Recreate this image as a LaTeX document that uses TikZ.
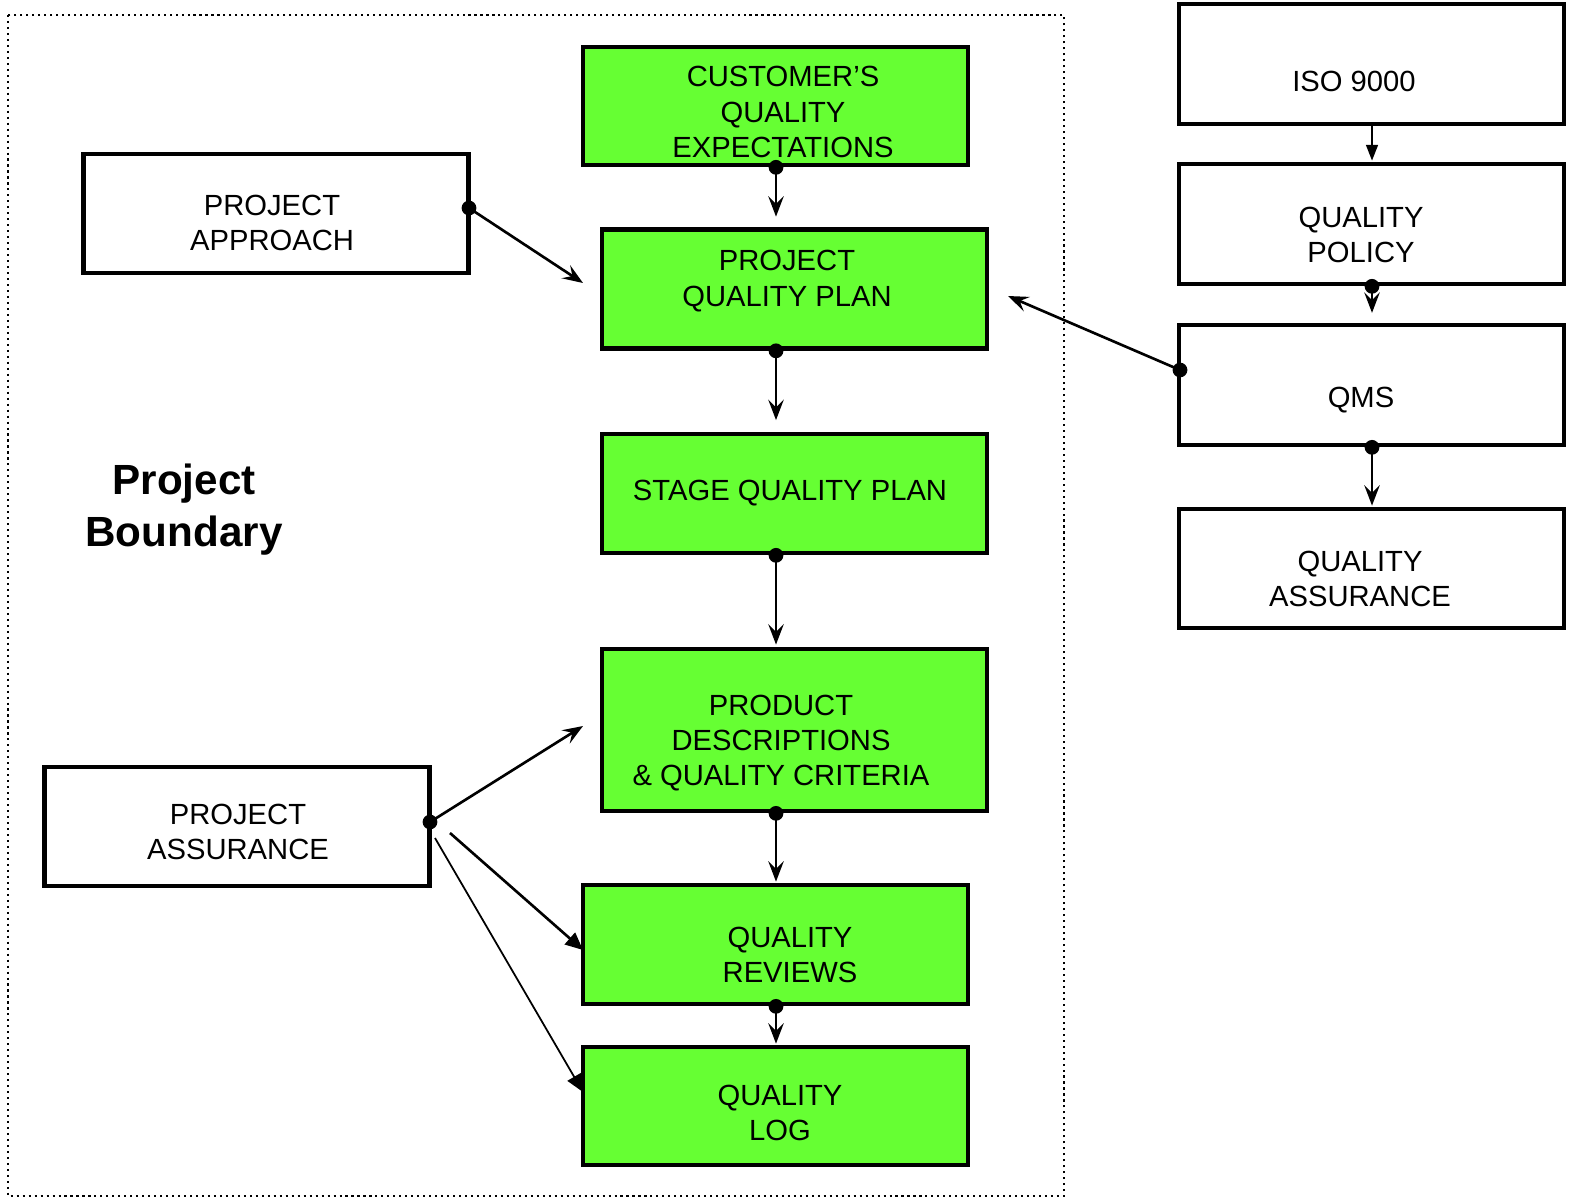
\documentclass[tikz,border=0pt]{standalone}
\usepackage{fontspec}
\setmainfont{Liberation Sans}
\usetikzlibrary{arrows.meta,calc}
\definecolor{boxgreen}{HTML}{66FF33}
\begin{document}
\begin{tikzpicture}[x=0.01cm,y=-0.01cm,
 box/.style={draw, line width=1.3pt, inner sep=0, minimum width=3.85cm, minimum height=1.19cm},
 gbox/.style={box, fill=boxgreen},
 lbl/.style={align=center, font=\fontsize{8.3}{10}\selectfont, inner sep=0},
 arr/.style={line width=0.75pt, -{Stealth[length=5.8pt,width=4.4pt,inset=2.2pt]}},
 farr/.style={line width=0.75pt, -{Triangle[length=5pt,width=4.4pt]}},
 thin/.style={line width=0.5pt},
 dotm/.style={circle, fill=black, inner sep=0, minimum size=4.2pt},
 boundary/.style={line width=0.6pt, dash pattern=on 0.6pt off 1.1pt}]
\useasboundingbox (0,0) rectangle (1570,1200);
\coordinate (colx) at (776,0);
\coordinate (colr) at (1372,0);
% boundary
\draw[boundary] (8,15) rectangle (1064,1196);
\node[font=\bfseries\fontsize{12}{14.8}\selectfont, align=center, inner sep=0] (pb) at (184,510) {Project\\Boundary};
% green boxes
\node[gbox, minimum height=1.18cm] (cqe) at (775.5,106) {};
\node[lbl] (cqeT) at (783,112) {CUSTOMER’S\\QUALITY\\EXPECTATIONS};
\node[gbox] (pqp) at (794.5,289) {};
\node[lbl] (pqpT) at (787,281) {PROJECT\\QUALITY PLAN};
\node[gbox] (stg) at (794.5,493.5) {};
\node[lbl] (stgT) at (790,493) {STAGE QUALITY PLAN};
\node[gbox, minimum height=1.62cm] (prd) at (794.5,730) {};
\node[lbl] (prdT) at (781,743) {PRODUCT\\DESCRIPTIONS\\\& QUALITY CRITERIA};
\node[gbox] (rev) at (775.5,944.5) {};
\node[lbl] (revT) at (790,955) {QUALITY\\REVIEWS};
\node[gbox, minimum height=1.18cm] (log) at (775.5,1106) {};
\node[lbl] (logT) at (780,1113) {QUALITY\\LOG};
% white boxes
\node[box] (pa) at (276,213.5) {};
\node[lbl] (paT) at (272,223) {PROJECT\\APPROACH};
\node[box] (pas) at (237,826.5) {};
\node[lbl] (pasT) at (238,832) {PROJECT\\ASSURANCE};
\node[box, minimum height=1.2cm] (iso) at (1371.5,64) {};
\node[lbl] (isoT) at (1354,81) {ISO 9000};
\node[box, minimum height=1.2cm] (qp) at (1371.5,224) {};
\node[lbl] (qpT) at (1361,235) {QUALITY\\POLICY};
\node[box, minimum height=1.2cm] (qms) at (1371.5,385) {};
\node[lbl] (qmsT) at (1361,400) {QMS};
\node[box] (qa) at (1371.5,568.5) {};
\node[lbl] (qaT) at (1360,579) {QUALITY\\ASSURANCE};
% free ends
\coordinate (paEnd) at (583,283);
\coordinate (qmsEnd) at (1008,296);
\coordinate (pasEndA) at (583,726);
\coordinate (pasStartB) at (450,833);
\coordinate (pasStartC) at (435,838);
\coordinate (pasEndB) at (583,950);
\coordinate (pasEndC) at (583,1092);
\coordinate (paDot) at (469,208);
\coordinate (qmsDot) at (1180,370);
\coordinate (pasDot) at (430,822);
% vertical connectors
\draw[arr, shorten >=3pt] (cqe.south -| colx) -- (pqp.north -| colx);
\draw[arr, shorten >=3.3pt] (pqp.south -| colx) -- (stg.north -| colx);
\draw[arr, shorten >=0.6pt] (stg.south -| colx) -- (prd.north -| colx);
\draw[arr, shorten >=0.3pt] (prd.south -| colx) -- (rev.north -| colx);
\draw[arr, shorten >=0.3pt] (rev.south -| colx) -- (log.north -| colx);
\draw[thin, -{Triangle[length=4.5pt,width=3.4pt]}, shorten >=0.3pt] (iso.south -| colr) -- (qp.north -| colr);
\draw[arr, shorten >=2.8pt] (qp.south -| colr) -- (qms.north -| colr);
\draw[arr, shorten >=0.3pt] (qms.south -| colr) -- (qa.north -| colr);
% slanted connectors
\draw[arr] (paDot) -- (paEnd);
\draw[arr] (qmsDot) -- (qmsEnd);
\draw[arr] (pasDot) -- (pasEndA);
\draw[farr] (pasStartB) -- (pasEndB);
\draw[thin, -{Triangle[length=5pt,width=4.4pt]}] (pasStartC) -- (pasEndC);
% dots
\foreach \b in {cqe,pqp,stg,prd,rev} \node[dotm] at (\b.south -| colx) {};
\foreach \b in {qp,qms} \node[dotm] at (\b.south -| colr) {};
\node[dotm] at (paDot) {};
\node[dotm] at (qmsDot) {};
\node[dotm] at (pasDot) {};
\end{tikzpicture}
\end{document}
